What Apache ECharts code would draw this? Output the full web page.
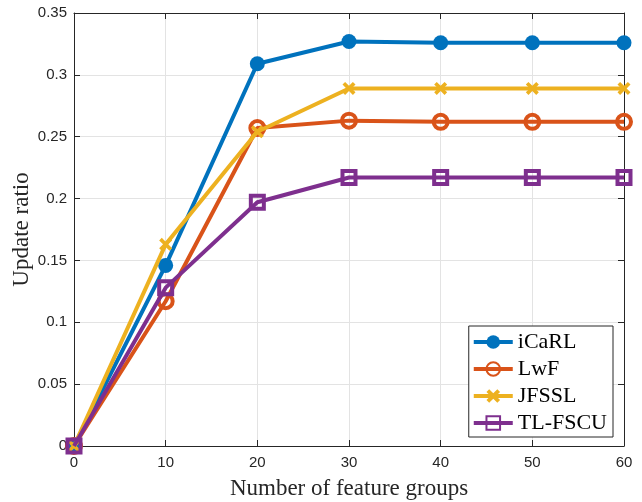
<!DOCTYPE html>
<html><head><meta charset="utf-8">
<script src="https://cdn.jsdelivr.net/npm/echarts@6/dist/echarts.min.js"></script>
<style>html,body{margin:0;padding:0;background:#fff}#c{width:642px;height:502px}</style>
</head><body><div id="c"></div>
<script>
const featureGroups = [0, 10, 20, 30, 40, 50, 60];
const icarl = [0, 0.146, 0.309, 0.327, 0.326, 0.326, 0.326];
const lwf = [0, 0.117, 0.257, 0.263, 0.262, 0.262, 0.262];
const jfssl = [0, 0.163, 0.254, 0.289, 0.289, 0.289, 0.289];
const tlfscu = [0, 0.128, 0.197, 0.217, 0.217, 0.217, 0.217];
const xTicks = [0, 10, 20, 30, 40, 50, 60];
const yTicks = [0, 0.05, 0.1, 0.15, 0.2, 0.25, 0.3, 0.35];

const pair = arr => featureGroups.map((x, i) => [x, arr[i]]);
const crossPath = 'path://M2,0 L5,3 L8,0 L10,2 L7,5 L10,8 L8,10 L5,7 L2,10 L0,8 L3,5 L0,2 Z';
const axisColor = '#262626';
const tickFont = {fontFamily: 'Liberation Sans, Arial, sans-serif', fontSize: 15, color: '#262626'};
const serif = 'Liberation Serif, Times New Roman, serif';

const chart = echarts.init(document.getElementById('c'), null, {renderer: 'canvas'});
const baseX = {type: 'value', min: xTicks[0], max: xTicks[xTicks.length-1], interval: 10};
const baseY = {type: 'value', min: yTicks[0], max: yTicks[yTicks.length-1], interval: 0.05};
chart.setOption({
  animation: false,
  backgroundColor: '#fff',
  grid: {left: 74, right: 18, top: 13, bottom: 56, containLabel: false, outerBoundsMode: 'none'},
  xAxis: [
    Object.assign({}, baseX, {
      position: 'bottom',
      name: 'Number of feature groups', nameLocation: 'middle', nameGap: 31, nameMoveOverlap: false,
      nameTextStyle: {fontFamily: serif, fontSize: 23, color: '#262626'},
      axisLine: {show: true, onZero: false, lineStyle: {color: axisColor, width: 1}},
      axisTick: {show: true, inside: true, length: 6, lineStyle: {color: axisColor}},
      axisLabel: Object.assign({margin: 9}, tickFont),
      splitLine: {show: true, lineStyle: {color: '#e3e3e3', width: 1}}
    }),
    Object.assign({}, baseX, {
      position: 'top',
      axisLine: {show: true, onZero: false, lineStyle: {color: axisColor, width: 1}},
      axisTick: {show: true, inside: true, length: 6, lineStyle: {color: axisColor}},
      axisLabel: {show: false}, splitLine: {show: false}
    })
  ],
  yAxis: [
    Object.assign({}, baseY, {
      position: 'left',
      name: 'Update ratio', nameLocation: 'middle', nameGap: 41, nameRotate: 90, nameMoveOverlap: false,
      nameTextStyle: {fontFamily: serif, fontSize: 23, color: '#262626'},
      axisLine: {show: true, onZero: false, lineStyle: {color: axisColor, width: 1}},
      axisTick: {show: true, inside: true, length: 6, lineStyle: {color: axisColor}},
      axisLabel: Object.assign({margin: 7, formatter: v => String(+v.toFixed(2))}, tickFont),
      splitLine: {show: true, lineStyle: {color: '#e3e3e3', width: 1}}
    }),
    Object.assign({}, baseY, {
      position: 'right',
      axisLine: {show: true, onZero: false, lineStyle: {color: axisColor, width: 1}},
      axisTick: {show: true, inside: true, length: 6, lineStyle: {color: axisColor}},
      axisLabel: {show: false}, splitLine: {show: false}
    })
  ],
  legend: {
    orient: 'vertical', right: 29, bottom: 65,
    backgroundColor: '#fff', borderColor: '#262626', borderWidth: 1, borderRadius: 0,
    padding: [5, 6, 3, 3], itemGap: 5, itemWidth: 39, itemHeight: 17,
    lineStyle: {width: 4},
    textStyle: {fontFamily: serif, fontSize: 22, color: '#000', lineHeight: 22},
    data: ['iCaRL', 'LwF', 'JFSSL', 'TL-FSCU']
  },
  series: [
    {name: 'iCaRL', type: 'line', data: pair(icarl), symbol: 'circle', symbolSize: 15,
     lineStyle: {width: 4, color: '#0072BD'}, itemStyle: {color: '#0072BD', borderColor: '#0072BD', borderWidth: 0}, z: 4},
    {name: 'LwF', type: 'line', data: pair(lwf), symbol: 'circle', symbolSize: 14,
     lineStyle: {width: 4, color: '#D95319'}, itemStyle: {color: 'rgba(0,0,0,0)', borderColor: '#D95319', borderWidth: 4}, z: 3},
    {name: 'JFSSL', type: 'line', data: pair(jfssl), symbol: crossPath, symbolSize: 13,
     lineStyle: {width: 4, color: '#EDB120'}, itemStyle: {color: '#EDB120', borderColor: '#EDB120', borderWidth: 0}, z: 5},
    {name: 'TL-FSCU', type: 'line', data: pair(tlfscu), symbol: 'rect', symbolSize: 13,
     lineStyle: {width: 4, color: '#7E2F8E'}, itemStyle: {color: 'rgba(0,0,0,0)', borderColor: '#7E2F8E', borderWidth: 4}, z: 6}
  ]
});
</script></body></html>
